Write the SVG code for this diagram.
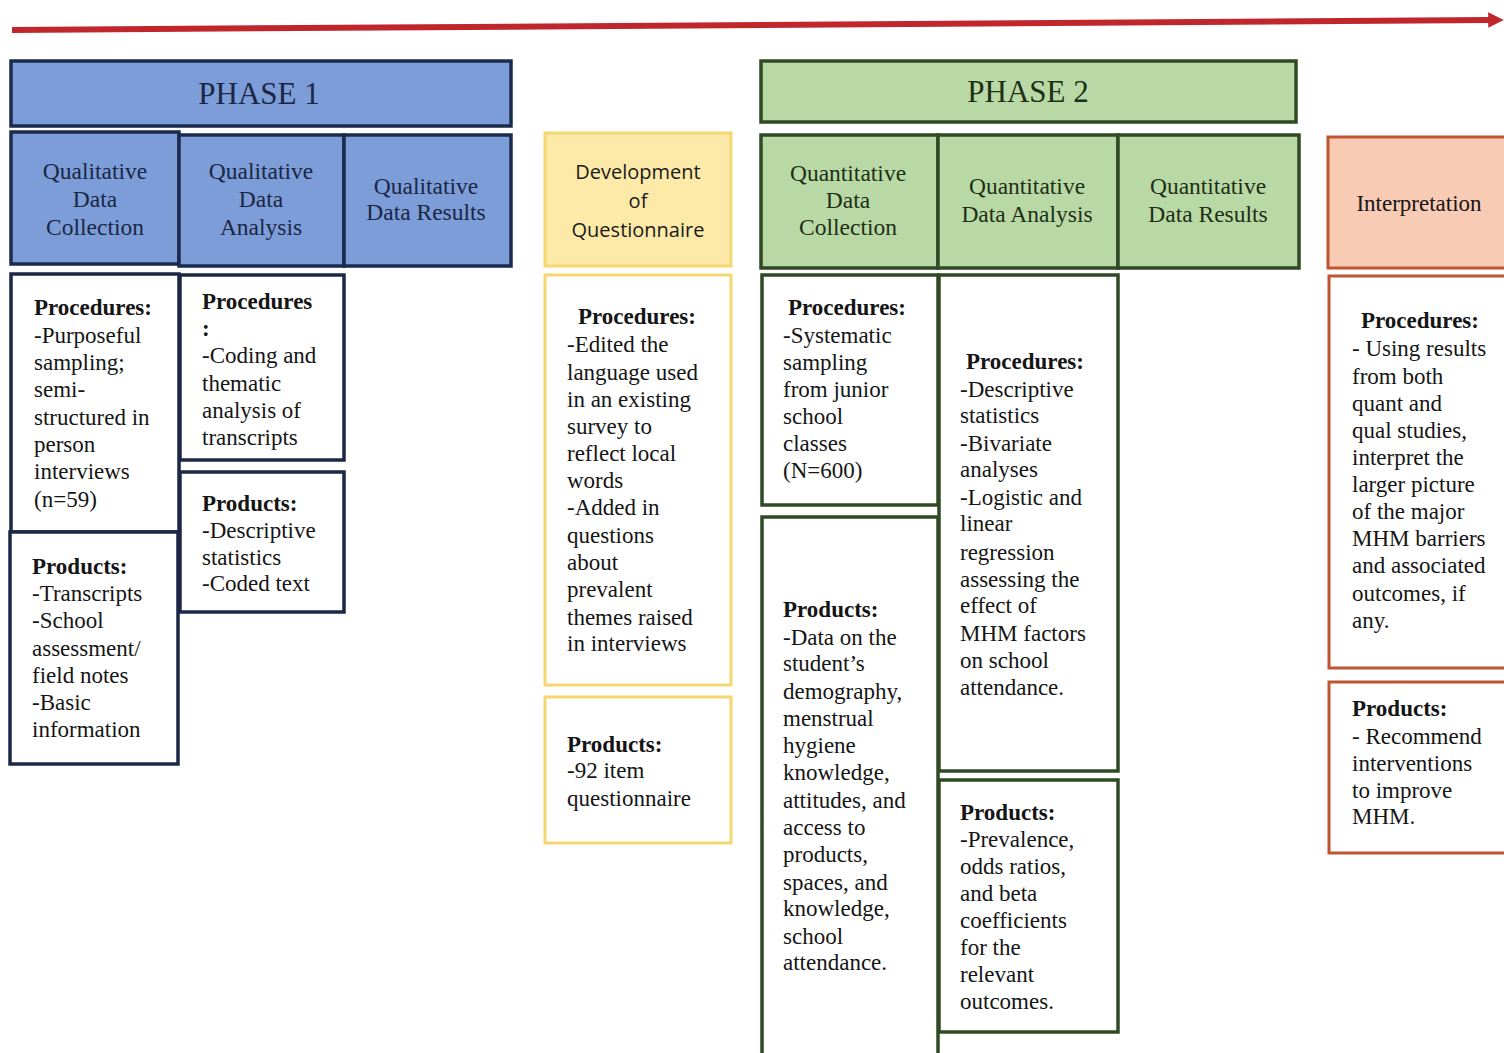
<svg xmlns="http://www.w3.org/2000/svg" width="1504" height="1053" viewBox="0 0 1504 1053" font-family="Liberation Serif">
<style>
.t{font-size:23px;fill:#151515}
.b{font-weight:bold}
.c{text-anchor:middle}
.h1{font-size:23.5px;fill:#1a2745;text-anchor:middle}
.h2{font-size:23.5px;fill:#1f2f15;text-anchor:middle}
.ph{font-size:31px;text-anchor:middle}
.q{font-size:20px;fill:#1a1a1a;text-anchor:middle}
.blue{fill:#7d9dd8;stroke:#1b2b4e;stroke-width:3.5}
.bw{fill:#fff;stroke:#1b2744;stroke-width:3.5}
.green{fill:#b8d9a5;stroke:#2f4a24;stroke-width:3.5}
.gw{fill:#fff;stroke:#2f4a24;stroke-width:3.5}
.yel{fill:#fde9a8;stroke:#f5d671;stroke-width:3}
.yw{fill:#fff;stroke:#f5d671;stroke-width:3}
.pch{fill:#f8cbb4;stroke:#bf5430;stroke-width:3}
.pw{fill:#fff;stroke:#bf5430;stroke-width:3}
</style>
<defs>
<marker id="ah" markerWidth="2.6" markerHeight="2.6" refX="0.3" refY="1.3" orient="auto" markerUnits="strokeWidth">
<path d="M0,0 L2.6,1.3 L0,2.6 z" fill="#c0272d"/>
</marker>
</defs>
<rect width="1504" height="1053" fill="#fff"/>
<g id="connectors">
<line x1="12" y1="30" x2="1490" y2="20" stroke="#c0272d" stroke-width="6" marker-end="url(#ah)"/>
</g>

<g id="phase1">
<rect class="blue" x="11" y="61" width="500" height="65"/>
<text class="ph" x="259" y="104" fill="#1a2745">PHASE 1</text>
</g>
<g id="qual-collection">
<rect class="blue" x="11" y="132" width="168" height="132"/>
<text class="h1" x="95" y="179">Qualitative</text>
<text class="h1" x="95" y="207">Data</text>
<text class="h1" x="95" y="235">Collection</text>
</g>
<g id="qual-analysis">
<rect class="blue" x="179" y="135" width="165" height="131"/>
<text class="h1" x="261" y="179">Qualitative</text>
<text class="h1" x="261" y="207">Data</text>
<text class="h1" x="261" y="235">Analysis</text>
</g>
<g id="qual-results">
<rect class="blue" x="344" y="135" width="167" height="131"/>
<text class="h1" x="426" y="194">Qualitative</text>
<text class="h1" x="426" y="220">Data Results</text>
</g>
<g id="qual-collection-proc">
<rect class="bw" x="11" y="274" width="168" height="258"/>
<text class="t b" x="34" y="315">Procedures:</text>
<text class="t" x="34" y="343">-Purposeful</text>
<text class="t" x="34" y="370">sampling;</text>
<text class="t" x="34" y="397">semi-</text>
<text class="t" x="34" y="425">structured in</text>
<text class="t" x="34" y="452">person</text>
<text class="t" x="34" y="479">interviews</text>
<text class="t" x="34" y="507">(n=59)</text>
</g>
<g id="qual-collection-prod">
<rect class="bw" x="10" y="532" width="168" height="232"/>
<text class="t b" x="32" y="574">Products:</text>
<text class="t" x="32" y="601">-Transcripts</text>
<text class="t" x="32" y="628">-School</text>
<text class="t" x="32" y="656">assessment/</text>
<text class="t" x="32" y="683">field notes</text>
<text class="t" x="32" y="710">-Basic</text>
<text class="t" x="32" y="737">information</text>
</g>
<g id="qual-analysis-proc">
<rect class="bw" x="180" y="275" width="164" height="185"/>
<text class="t b" x="202" y="309">Procedures</text>
<text class="t b" x="202" y="336">:</text>
<text class="t" x="202" y="363">-Coding and</text>
<text class="t" x="202" y="391">thematic</text>
<text class="t" x="202" y="418">analysis of</text>
<text class="t" x="202" y="445">transcripts</text>
</g>
<g id="qual-analysis-prod">
<rect class="bw" x="180" y="472" width="164" height="140"/>
<text class="t b" x="202" y="511">Products:</text>
<text class="t" x="202" y="538">-Descriptive</text>
<text class="t" x="202" y="565">statistics</text>
<text class="t" x="202" y="591">-Coded text</text>
</g>

<g id="questionnaire" font-family="Open Sans">
<rect class="yel" x="545" y="133" width="186" height="133"/>
<text class="q" x="638" y="179">Development</text>
<text class="q" x="638" y="208">of</text>
<text class="q" x="638" y="237">Questionnaire</text>
</g>
<g id="questionnaire-proc">
<rect class="yw" x="545" y="275" width="186" height="410"/>
<text class="t b c" x="637" y="324">Procedures:</text>
<text class="t" x="567" y="352">-Edited the</text>
<text class="t" x="567" y="380">language used</text>
<text class="t" x="567" y="407">in an existing</text>
<text class="t" x="567" y="434">survey to</text>
<text class="t" x="567" y="461">reflect local</text>
<text class="t" x="567" y="488">words</text>
<text class="t" x="567" y="515">-Added in</text>
<text class="t" x="567" y="543">questions</text>
<text class="t" x="567" y="570">about</text>
<text class="t" x="567" y="597">prevalent</text>
<text class="t" x="567" y="625">themes raised</text>
<text class="t" x="567" y="651">in interviews</text>
</g>
<g id="questionnaire-prod">
<rect class="yw" x="545" y="697" width="186" height="146"/>
<text class="t b" x="567" y="752">Products:</text>
<text class="t" x="567" y="778">-92 item</text>
<text class="t" x="567" y="806">questionnaire</text>
</g>

<g id="phase2">
<rect class="green" x="761" y="61" width="535" height="61"/>
<text class="ph" x="1028" y="102" fill="#1f2f15">PHASE 2</text>
</g>
<g id="quant-collection">
<rect class="green" x="761" y="135" width="177" height="133"/>
<text class="h2" x="848" y="181">Quantitative</text>
<text class="h2" x="848" y="208">Data</text>
<text class="h2" x="848" y="235">Collection</text>
</g>
<g id="quant-analysis">
<rect class="green" x="938" y="135" width="180" height="133"/>
<text class="h2" x="1027" y="194">Quantitative</text>
<text class="h2" x="1027" y="222">Data Analysis</text>
</g>
<g id="quant-results">
<rect class="green" x="1118" y="135" width="181" height="133"/>
<text class="h2" x="1208" y="194">Quantitative</text>
<text class="h2" x="1208" y="222">Data Results</text>
</g>
<g id="quant-collection-proc">
<rect class="gw" x="762" y="275" width="176" height="230"/>
<text class="t b" x="788" y="315">Procedures:</text>
<text class="t" x="783" y="343">-Systematic</text>
<text class="t" x="783" y="370">sampling</text>
<text class="t" x="783" y="397">from junior</text>
<text class="t" x="783" y="424">school</text>
<text class="t" x="783" y="451">classes</text>
<text class="t" x="783" y="478">(N=600)</text>
</g>
<g id="quant-collection-prod">
<rect class="gw" x="762" y="517" width="176" height="545"/>
<text class="t b" x="783" y="617">Products:</text>
<text class="t" x="783" y="645">-Data on the</text>
<text class="t" x="783" y="671">student’s</text>
<text class="t" x="783" y="699">demography,</text>
<text class="t" x="783" y="726">menstrual</text>
<text class="t" x="783" y="753">hygiene</text>
<text class="t" x="783" y="780">knowledge,</text>
<text class="t" x="783" y="808">attitudes, and</text>
<text class="t" x="783" y="835">access to</text>
<text class="t" x="783" y="862">products,</text>
<text class="t" x="783" y="890">spaces, and</text>
<text class="t" x="783" y="916">knowledge,</text>
<text class="t" x="783" y="944">school</text>
<text class="t" x="783" y="970">attendance.</text>
</g>
<g id="quant-analysis-proc">
<rect class="gw" x="939" y="275" width="179" height="496"/>
<text class="t b" x="966" y="369">Procedures:</text>
<text class="t" x="960" y="397">-Descriptive</text>
<text class="t" x="960" y="423">statistics</text>
<text class="t" x="960" y="451">-Bivariate</text>
<text class="t" x="960" y="477">analyses</text>
<text class="t" x="960" y="505">-Logistic and</text>
<text class="t" x="960" y="531">linear</text>
<text class="t" x="960" y="560">regression</text>
<text class="t" x="960" y="587">assessing the</text>
<text class="t" x="960" y="613">effect of</text>
<text class="t" x="960" y="641">MHM factors</text>
<text class="t" x="960" y="668">on school</text>
<text class="t" x="960" y="695">attendance.</text>
</g>
<g id="quant-analysis-prod">
<rect class="gw" x="939" y="780" width="179" height="252"/>
<text class="t b" x="960" y="820">Products:</text>
<text class="t" x="960" y="847">-Prevalence,</text>
<text class="t" x="960" y="874">odds ratios,</text>
<text class="t" x="960" y="901">and beta</text>
<text class="t" x="960" y="928">coefficients</text>
<text class="t" x="960" y="955">for the</text>
<text class="t" x="960" y="982">relevant</text>
<text class="t" x="960" y="1009">outcomes.</text>
</g>

<g id="interpretation">
<rect class="pch" x="1328" y="137" width="186" height="131"/>
<text class="t c" x="1419" y="211">Interpretation</text>
</g>
<g id="interpretation-proc">
<rect class="pw" x="1329" y="276" width="185" height="392"/>
<text class="t b c" x="1420" y="328">Procedures:</text>
<text class="t" x="1352" y="356">- Using results</text>
<text class="t" x="1352" y="384">from both</text>
<text class="t" x="1352" y="411">quant and</text>
<text class="t" x="1352" y="438">qual studies,</text>
<text class="t" x="1352" y="465">interpret the</text>
<text class="t" x="1352" y="492">larger picture</text>
<text class="t" x="1352" y="519">of the major</text>
<text class="t" x="1352" y="546">MHM barriers</text>
<text class="t" x="1352" y="573">and associated</text>
<text class="t" x="1352" y="601">outcomes, if</text>
<text class="t" x="1352" y="628">any.</text>
</g>
<g id="interpretation-prod">
<rect class="pw" x="1329" y="682" width="185" height="171"/>
<text class="t b" x="1352" y="716">Products:</text>
<text class="t" x="1352" y="744">- Recommend</text>
<text class="t" x="1352" y="771">interventions</text>
<text class="t" x="1352" y="798">to improve</text>
<text class="t" x="1352" y="824">MHM.</text>
</g>
</svg>
